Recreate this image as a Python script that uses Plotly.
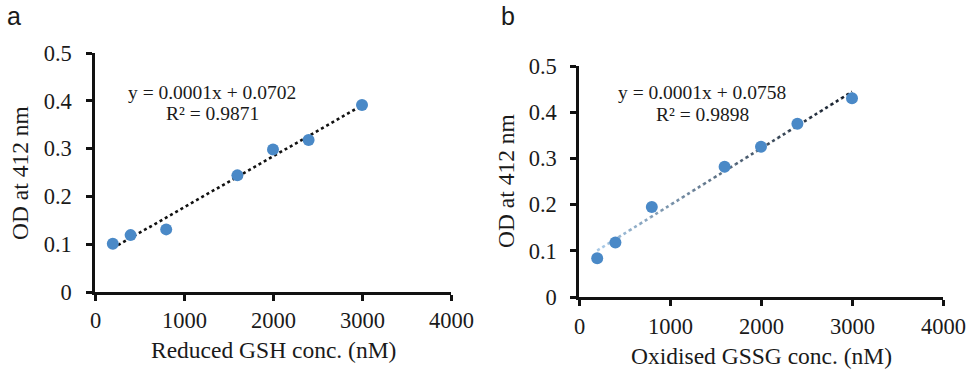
import numpy as np
import plotly.graph_objects as go

# Calibration data (concentration in nM, absorbance at 412 nm)
conc_gsh = [200, 400, 800, 1600, 2000, 2400, 3000]
od_gsh = [0.101, 0.119, 0.131, 0.244, 0.298, 0.318, 0.391]

conc_gssg = [200, 400, 800, 1600, 2000, 2400, 3000]
od_gssg = [0.084, 0.118, 0.195, 0.282, 0.325, 0.375, 0.430]

eq_gsh = ["y = 0.0001x + 0.0702", "R² = 0.9871"]
eq_gssg = ["y = 0.0001x + 0.0758", "R² = 0.9898"]

x_ticks = [0, 1000, 2000, 3000, 4000]
y_ticks = [0, 0.1, 0.2, 0.3, 0.4, 0.5]

W, H = 971, 372
SERIF = "Liberation Serif"
SANS = "Liberation Sans"
INK = "#1a1a1a"
MARKER = "#4a89c7"


def px(v, total):
    return v / total


fig = go.Figure()

# linear fits
fit_a = np.polyfit(conc_gsh, od_gsh, 1)
fit_b = np.polyfit(conc_gssg, od_gssg, 1)

# panel a trend line (black dotted)
xa = np.array([conc_gsh[0], conc_gsh[-1]])
fig.add_trace(go.Scatter(x=xa, y=np.polyval(fit_a, xa), mode="lines",
                         line=dict(color="#111111", width=2.6, dash="dot"),
                         xaxis="x", yaxis="y", showlegend=False, hoverinfo="skip"))

# panel b trend line, shaded from light blue to near black
n_seg = 24
edges = np.linspace(conc_gssg[0], conc_gssg[-1], n_seg + 1)
c0 = np.array([172, 206, 236])
c1 = np.array([18, 26, 38])
for i in range(n_seg):
    t = (i + 0.5) / n_seg
    t = t ** 0.9
    c = (c0 * (1 - t) + c1 * t).astype(int)
    xs = edges[i:i + 2]
    fig.add_trace(go.Scatter(x=xs, y=np.polyval(fit_b, xs), mode="lines",
                             line=dict(color=f"rgb({c[0]},{c[1]},{c[2]})", width=2.6, dash="dot"),
                             xaxis="x2", yaxis="y2", showlegend=False, hoverinfo="skip"))

fig.add_trace(go.Scatter(x=conc_gsh, y=od_gsh, mode="markers",
                         marker=dict(color=MARKER, size=12, line=dict(width=0)),
                         xaxis="x", yaxis="y", showlegend=False))
fig.add_trace(go.Scatter(x=conc_gssg, y=od_gssg, mode="markers",
                         marker=dict(color=MARKER, size=12, line=dict(width=0)),
                         xaxis="x2", yaxis="y2", showlegend=False))


def axis_style(**kw):
    d = dict(
        showgrid=False, zeroline=False, showline=True, linecolor="#111111", linewidth=2.5,
        ticks="outside", ticklen=6, tickwidth=2.5, tickcolor="#111111",
        tickfont=dict(family=SERIF, size=22.5, color=INK), automargin=False,
    )
    d.update(kw)
    return d


# pixel geometry of the two plot areas
a_x0, a_x1, a_y0, a_y1 = 95, 451, 292, 53
b_x0, b_x1, b_y0, b_y1 = 579, 943, 297, 66

fig.update_layout(
    template="none",
    width=W, height=H,
    margin=dict(l=0, r=0, t=0, b=0, pad=0),
    paper_bgcolor="white", plot_bgcolor="white",
    font=dict(family=SERIF, color=INK),
    xaxis=axis_style(domain=[px(a_x0, W), px(a_x1, W)], range=[0, 4000],
                     tickvals=x_ticks, anchor="y", showticklabels=False),
    yaxis=axis_style(domain=[1 - px(a_y0, H), 1 - px(a_y1, H)], range=[0, 0.5],
                     tickvals=y_ticks, ticktext=[f"{v:g}" for v in y_ticks], anchor="x",
                     ticklabelstandoff=10),
    xaxis2=axis_style(domain=[px(b_x0, W), px(b_x1, W)], range=[0, 4000],
                      tickvals=x_ticks, anchor="y2", showticklabels=False),
    yaxis2=axis_style(domain=[1 - px(b_y0, H), 1 - px(b_y1, H)], range=[0, 0.5],
                      tickvals=y_ticks, ticktext=[f"{v:g}" for v in y_ticks], anchor="x2",
                      ticklabelstandoff=9),
)


def note(text, x, y, size, family=SERIF, angle=0):
    fig.add_annotation(text=text, x=px(x, W), y=1 - px(y, H), xref="paper", yref="paper",
                       showarrow=False, xanchor="center", yanchor="middle",
                       font=dict(family=family, size=size, color=INK), textangle=angle)


# x tick labels, placed on the data axis
for xref, ypix in (("x", 320), ("x2", 326)):
    for v in x_ticks:
        fig.add_annotation(text=f"{v}", x=v, y=1 - px(ypix, H), xref=xref, yref="paper",
                           showarrow=False, xanchor="center", yanchor="middle",
                           font=dict(family=SERIF, size=22.5, color=INK))

# panel letters
note("a", 14, 16, 25, family=SANS)
note("b", 508, 16, 25, family=SANS)

# axis titles
note("Reduced GSH conc. (nM)", 273, 350, 23.5)
note("Oxidised GSSG conc. (nM)", 761, 356, 23.5)
note("OD at 412 nm", 20, 173, 23.5, angle=-90)
note("OD at 412 nm", 506, 181, 23.5, angle=-90)

# fit equations
note(eq_gsh[0], 212, 92, 19.5)
note(eq_gsh[1], 212, 114, 19.5)
note(eq_gssg[0], 702, 92, 19.5)
note(eq_gssg[1], 702, 115, 19.5)

fig.write_html("out.html", post_script="document.body.style.margin='0';")
